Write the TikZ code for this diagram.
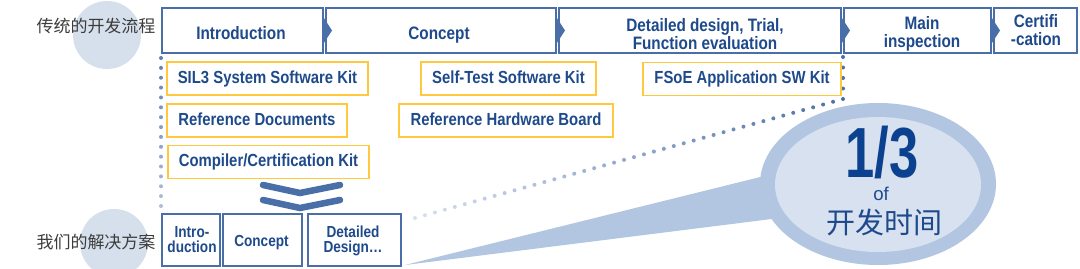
\documentclass[tikz,border=0pt]{standalone}
\usepackage{fontspec}
\usetikzlibrary{calc}
\setmainfont{Liberation Sans}
\newfontfamily\boxfont[FakeStretch=0.85]{Liberation Sans Bold}
\newfontfamily\numfont[FakeStretch=0.74]{Liberation Sans Bold}
\newfontfamily\cjk{Noto Sans CJK SC}
\definecolor{boxblue}{HTML}{4A6FA8}
\definecolor{txtblue}{HTML}{1E4A8C}
\definecolor{numblue}{HTML}{0C4190}
\definecolor{kitgold}{HTML}{FFC83D}
\definecolor{circ}{HTML}{D6E0EC}
\definecolor{bubout}{HTML}{B2C6E1}
\definecolor{bubin}{HTML}{D7E1EF}
\definecolor{dotdark}{HTML}{4A6FA8}
\definecolor{dotlight}{HTML}{D6E0EF}
\definecolor{graytxt}{HTML}{3C3C3C}
\tikzset{
  topbox/.style={draw=boxblue, line width=2pt, minimum height=44.5pt, inner sep=0pt},
  toptxt/.style={font=\boxfont\fontsize{18pt}{18pt}\selectfont, text=txtblue, inner sep=0pt, text height=13pt, text depth=4pt},
  twotxt/.style={font=\boxfont\fontsize{18pt}{18pt}\selectfont, text=txtblue, inner sep=0pt, align=center},
  kitbox/.style={draw=kitgold, line width=1.5pt, minimum height=33pt, inner sep=0pt,
    font=\boxfont\fontsize{17.5pt}{17.5pt}\selectfont, text=txtblue, text height=12.8pt, text depth=3.7pt},
  botbox/.style={draw=boxblue, line width=2pt, minimum height=52pt, inner sep=0pt},
  bottxt/.style={font=\boxfont\fontsize{16pt}{15pt}\selectfont, text=txtblue, inner sep=0pt, align=center},
  stagearrow/.style={fill=boxblue},
  chevron/.style={draw=boxblue, line width=6.5pt, line cap=round, line join=miter},
  cjklabel/.style={font=\cjk\fontsize{17pt}{17pt}\selectfont, text=graytxt, inner sep=0pt},
}
\begin{document}
\begin{tikzpicture}[x=1pt, y=-1pt]
\useasboundingbox (0,0) rectangle (1080,268);
\clip (0,0) rectangle (1080,268);
\fill[white] (0,0) rectangle (1080,268);

% background circles and row labels
\fill[circ] (107,35) circle[radius=34pt];
\fill[circ] (114,243) circle[radius=34pt];
\node[cjklabel] (lab1) at (96,26) {传统的开发流程};
\node[cjklabel] (lab2) at (96,242) {我们的解决方案};

% speech bubble
\fill[bubout] (405,265) -- (760.4,177) -- (795,190) -- (771.6,219) -- cycle;
\fill[bubout] (878,184) ellipse [x radius=118pt, y radius=81pt];
\fill[bubin] (878,184.5) ellipse [x radius=103pt, y radius=67.5pt];
\node[font=\numfont\fontsize{71pt}{71pt}\selectfont, text=numblue, inner sep=0pt, text height=51pt, text depth=0pt] (frac) at (882,151.5) {1/3};
\node[font=\fontsize{18.6pt}{18.6pt}\selectfont, text=txtblue, inner sep=0pt] (of) at (881,194) {of};
\node[font=\cjk\fontsize{29pt}{29pt}\selectfont, text=txtblue, inner sep=0pt] (devtime) at (884.5,222) {开发时间};

% dotted guides
\coordinate (dl1) at (161,58);
\coordinate (dl2) at (161,206);
\coordinate (dr1) at (843,57);
\coordinate (dr2) at (843,99);
\coordinate (dr4) at (415,218);
\foreach \i in {0,...,15}{
  \pgfmathsetmacro\t{\i/15}
  \pgfmathtruncatemacro\p{85-\i*55/15}
  \fill[dotdark!\p!dotlight] ($(dl1)!\t!(dl2)$) circle[radius=2pt];
}
\foreach \i in {0,...,3}{
  \pgfmathsetmacro\t{\i/4}
  \fill[dotdark] ($(dr1)!\t!(dr2)$) circle[radius=2pt];
}
\foreach \i in {0,...,43}{
  \pgfmathsetmacro\t{\i/43}
  \pgfmathtruncatemacro\p{100-\i*100/43}
  \fill[dotdark!\p!dotlight] ($(dr2)!\t!(dr4)$) circle[radius=2pt];
}

% traditional process row
\node[topbox, minimum width=161pt] (intro) at (242.5,30.5) {};
\node[topbox, minimum width=230pt] (concept) at (441,30.5) {};
\node[topbox, minimum width=282pt] (detail) at (700,30.5) {};
\node[topbox, minimum width=147pt] (main) at (917.5,30.5) {};
\node[topbox, minimum width=83pt] (cert) at (1035.5,30.5) {};
\foreach \a/\b in {intro/concept, concept/detail, detail/main, main/cert}{
  \fill[stagearrow] ($(\a.east)+(-2,-15.5)$) -- ($(\b.west)+(7,0)$) -- ($(\a.east)+(-2,15.5)$) -- cycle;
}
\node[toptxt] (introtxt) at (241,34.5) {Introduction};
\node[toptxt] (concepttxt) at (439,34.5) {Concept};
\node[twotxt] (detailtxt) at (705,34.5) {Detailed design, Trial,\\Function evaluation};
\node[twotxt] (maintxt) at (922,33.4) {Main\\inspection};
\node[twotxt] (certtxt) at (1036,30) {Certifi\\-cation};

% kits
\node[kitbox, minimum width=201pt] (sil3) at (267.5,78.5) {SIL3 System Software Kit};
\node[kitbox, minimum width=180pt] (refdoc) at (257,120.5) {Reference Documents};
\node[kitbox, minimum width=201pt] (comp) at (268.5,162) {Compiler/Certification Kit};
\node[kitbox, minimum width=175pt] (selftest) at (508.5,78.5) {Self-Test Software Kit};
\node[kitbox, minimum width=214pt] (refhw) at (506,120.5) {Reference Hardware Board};
\node[kitbox, minimum width=198pt] (fsoe) at (742,79) {FSoE Application SW Kit};

% chevrons
\draw[chevron] (263,185) -- (300,193) -- (340,185);
\draw[chevron] (263,200) -- (300,208) -- (340,200);

% our solution row
\node[botbox, minimum width=58pt] (bintro) at (191,240) {};
\node[botbox, minimum width=79pt] (bconc) at (262.5,240) {};
\node[botbox, minimum width=93pt] (bdet) at (354.5,240) {};
\node[bottxt] (bintrotxt) at (192,239.5) {Intro-\\duction};
\node[bottxt, text height=11.6pt, text depth=3.4pt] (bconctxt) at (261.5,242) {Concept};
\node[bottxt] (bdettxt) at (353,241) {Detailed\\Design…};
\end{tikzpicture}
\end{document}
